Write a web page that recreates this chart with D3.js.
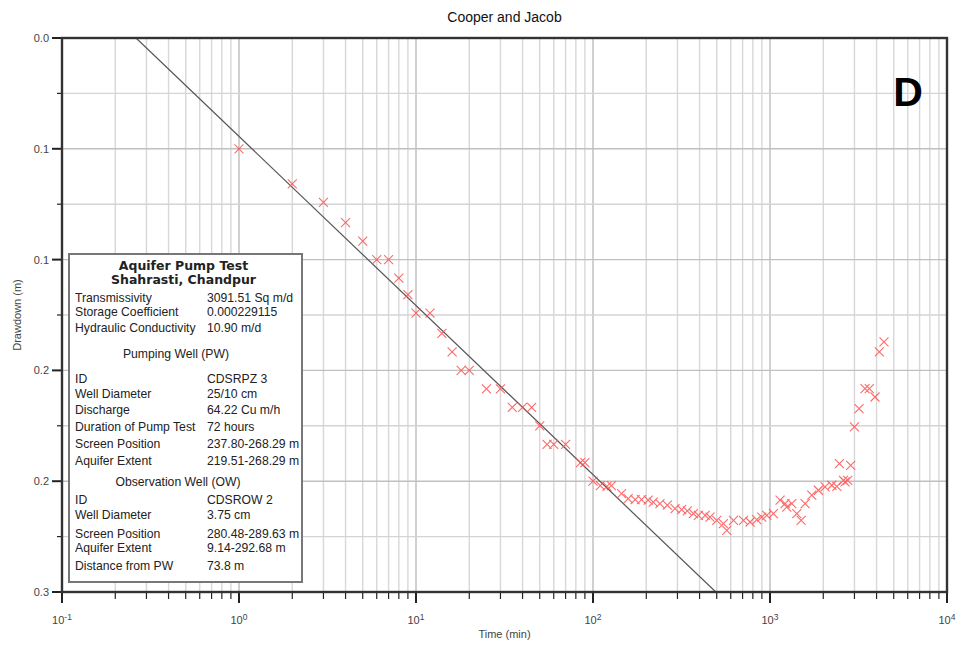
<!DOCTYPE html>
<html><head><meta charset="utf-8">
<script src="https://cdn.jsdelivr.net/npm/d3@7"></script>
<style>body{margin:0;background:#fff;} text{font-family:"Liberation Sans",Arial,sans-serif;}</style>
</head><body>
<svg id="c" width="959" height="645"></svg>
<script>
// ---- data ----
const chartTitle = "Cooper and Jacob";
const xTitle = "Time (min)";
const yTitle = "Drawdown (m)";
const panelLetter = "D";
const timeMin = [1,2,3,4,5,6,7,8,9,10,12,14,16,18,20,25,30,35,40,45,50,55,60,70,85,90,
  100,110,120,127,145,158,173,188,205,219,239,263,291,317,341,369,394,430,458,500,545,570,
  622,708,772,842,898,959,1045,1140,1216,1244,1328,1417,1500,1579,1722,1877,2047,2235,2385,
  2466,2600,2655,2750,2857,3000,3186,3443,3640,3920,4146,4406];
const drawdown = [0.060,0.079,0.089,0.100,0.110,0.120,0.120,0.130,0.139,0.149,0.149,0.160,0.170,0.180,0.180,0.190,0.190,0.200,0.200,0.200,0.210,0.220,0.220,0.220,0.230,0.230,
  0.240,0.2424,0.2428,0.2424,0.2467,0.2494,0.250,0.250,0.2503,0.2513,0.2521,0.253,0.2548,0.2554,0.2561,0.2575,0.2585,0.2585,0.2594,0.2612,0.263,0.2666,
  0.2612,0.2612,0.2621,0.2608,0.2594,0.2585,0.2575,0.2503,0.2521,0.254,0.2521,0.2575,0.2612,0.2521,0.2476,0.2449,0.2431,0.2422,0.2428,
  0.2305,0.2395,0.2404,0.2395,0.2314,0.2106,0.2007,0.1899,0.1899,0.1944,0.170,0.1646];
const fitTime = [0.262, 494];
const fitDrawdown = [0, 0.3];
const yTickValues = [0,0.06,0.12,0.18,0.24,0.30];
const yMinorValues = [0.03,0.09,0.15,0.21,0.27];
const xDecades = [-1,0,1,2,3,4];
const infoTitle = ["Aquifer Pump Test","Shahrasti, Chandpur"];
const infoRows1 = [["Transmissivity","3091.51 Sq m/d"],["Storage Coefficient","0.000229115"],["Hydraulic Conductivity","10.90 m/d"]];
const infoHead2 = "Pumping Well (PW)";
const infoRows2 = [["ID","CDSRPZ 3"],["Well Diameter","25/10 cm"],["Discharge","64.22 Cu m/h"],["Duration of Pump Test","72 hours"],["Screen Position","237.80-268.29 m"],["Aquifer Extent","219.51-268.29 m"]];
const infoHead3 = "Observation Well (OW)";
const infoRows3 = [["ID","CDSROW 2"],["Well Diameter","3.75 cm"],["Screen Position","280.48-289.63 m"],["Aquifer Extent","9.14-292.68 m"],["Distance from PW","73.8 m"]];

// ---- layout ----
const L=62, R=947, T=38, B=592;
const svg = d3.select("#c");
const x = d3.scaleLog().domain([0.1,1e4]).range([L,R]);
const y = d3.scaleLinear().domain([0,0.3]).range([T,B]);
const isDecade = d => Math.abs(Math.log10(d)-Math.round(Math.log10(d)))<1e-9;

const xMinor = [];
xDecades.slice(0,-1).forEach(e=>{ for(let k=1;k<10;k++) xMinor.push(k*Math.pow(10,e)); });
xMinor.push(1e4);

// gridlines
const g = svg.append("g");
g.selectAll(".vg").data(xMinor).join("line")
  .attr("x1",d=>x(d)).attr("x2",d=>x(d)).attr("y1",T).attr("y2",B)
  .attr("stroke",d=>isDecade(d)?"#bcbcbc":"#d8d8d8")
  .attr("stroke-width",1.4);
g.selectAll(".hg").data(yTickValues.concat(yMinorValues)).join("line")
  .attr("x1",L).attr("x2",R).attr("y1",d=>y(d)).attr("y2",d=>y(d))
  .attr("stroke",d=>yTickValues.includes(d)?"#c0c0c0":"#d4d4d4").attr("stroke-width",1.4);

// fitted line
svg.append("clipPath").attr("id","pc").append("rect").attr("x",L).attr("y",T).attr("width",R-L).attr("height",B-T);
svg.append("line").attr("clip-path","url(#pc)")
  .attr("x1",x(fitTime[0])).attr("y1",y(fitDrawdown[0])).attr("x2",x(fitTime[1])).attr("y2",y(fitDrawdown[1]))
  .attr("stroke","#555").attr("stroke-width",1.2);

// data markers
const m=4.5;
const pts = svg.append("g").attr("stroke","#ff5050").attr("stroke-width",1.1).attr("opacity",0.85);
timeMin.forEach((t,i)=>{
  const cx=x(t), cy=y(drawdown[i]);
  pts.append("path").attr("d",`M${cx-m},${cy-m}L${cx+m},${cy+m}M${cx-m},${cy+m}L${cx+m},${cy-m}`).attr("fill","none");
});

// axes ticks
const ax = svg.append("g");
ax.selectAll(".yt").data(yTickValues).join("line")
  .attr("x1",L-10).attr("x2",L).attr("y1",d=>y(d)).attr("y2",d=>y(d)).attr("stroke","#222").attr("stroke-width",2);
ax.selectAll(".ym").data(yMinorValues).join("line")
  .attr("x1",L-5).attr("x2",L).attr("y1",d=>y(d)).attr("y2",d=>y(d)).attr("stroke","#222").attr("stroke-width",1.2);
ax.selectAll(".ytl").data(yTickValues).join("text")
  .attr("x",L-13).attr("y",d=>y(d)+4).attr("text-anchor","end").attr("font-size",11).attr("fill","#444")
  .text(d=>d3.format(".1f")(d));
ax.selectAll(".xt").data(xMinor).join("line")
  .attr("x1",d=>x(d)).attr("x2",d=>x(d)).attr("y1",B)
  .attr("y2",d=>isDecade(d)?B+11:B+7)
  .attr("stroke","#222").attr("stroke-width",d=>isDecade(d)?2:1.2);
const xl = ax.selectAll(".xtl").data(xDecades).join("text")
  .attr("x",d=>x(Math.pow(10,d))).attr("y",624).attr("text-anchor","middle").attr("font-size",11).attr("fill","#444");
xl.append("tspan").text("10");
xl.append("tspan").attr("dy",-4).attr("font-size",8.5).text(d=>String(d));

// frame
svg.append("rect").attr("x",L).attr("y",T).attr("width",R-L).attr("height",B-T)
  .attr("fill","none").attr("stroke","#333").attr("stroke-width",2.4);

// titles
svg.append("text").attr("x",(L+R)/2).attr("y",22).attr("text-anchor","middle").attr("font-size",14).attr("fill","#111").text(chartTitle);
svg.append("text").attr("x",(L+R)/2).attr("y",638).attr("text-anchor","middle").attr("font-size",11).attr("fill","#444").text(xTitle);
svg.append("text").attr("transform",`translate(21,${(T+B)/2}) rotate(-90)`).attr("text-anchor","middle").attr("font-size",11).attr("fill","#444").text(yTitle);
svg.append("text").attr("x",908).attr("y",106).attr("text-anchor","middle").attr("font-size",41).attr("font-weight","bold").attr("fill","#000").text(panelLetter);

// info box
const bx=69, by=254, bw=233, bh=328;
svg.append("rect").attr("x",bx).attr("y",by).attr("width",bw).attr("height",bh).attr("fill","#fff").attr("stroke","#777").attr("stroke-width",2);
const ib = svg.append("g").attr("font-size",12.2).attr("fill","#222");
const cx0 = bx+bw/2;
ib.append("text").attr("x",cx0-2).attr("y",270).attr("text-anchor","middle").attr("font-weight","bold").attr("font-size",12.5).style("font-family","'DejaVu Sans',sans-serif").text(infoTitle[0]);
ib.append("text").attr("x",cx0-2).attr("y",284).attr("text-anchor","middle").attr("font-weight","bold").attr("font-size",12.5).style("font-family","'DejaVu Sans',sans-serif").text(infoTitle[1]);
const row=(arr,ys)=>arr.forEach((r,i)=>{
  ib.append("text").attr("x",75).attr("y",ys[i]).text(r[0]);
  ib.append("text").attr("x",207).attr("y",ys[i]).text(r[1]);
});
row(infoRows1,[302,316,332]);
ib.append("text").attr("x",176).attr("y",358).attr("text-anchor","middle").text(infoHead2);
row(infoRows2,[383,398,414,431,448,465]);
ib.append("text").attr("x",178).attr("y",486).attr("text-anchor","middle").text(infoHead3);
row(infoRows3,[504,519,538,552,570]);
</script>
</body></html>
